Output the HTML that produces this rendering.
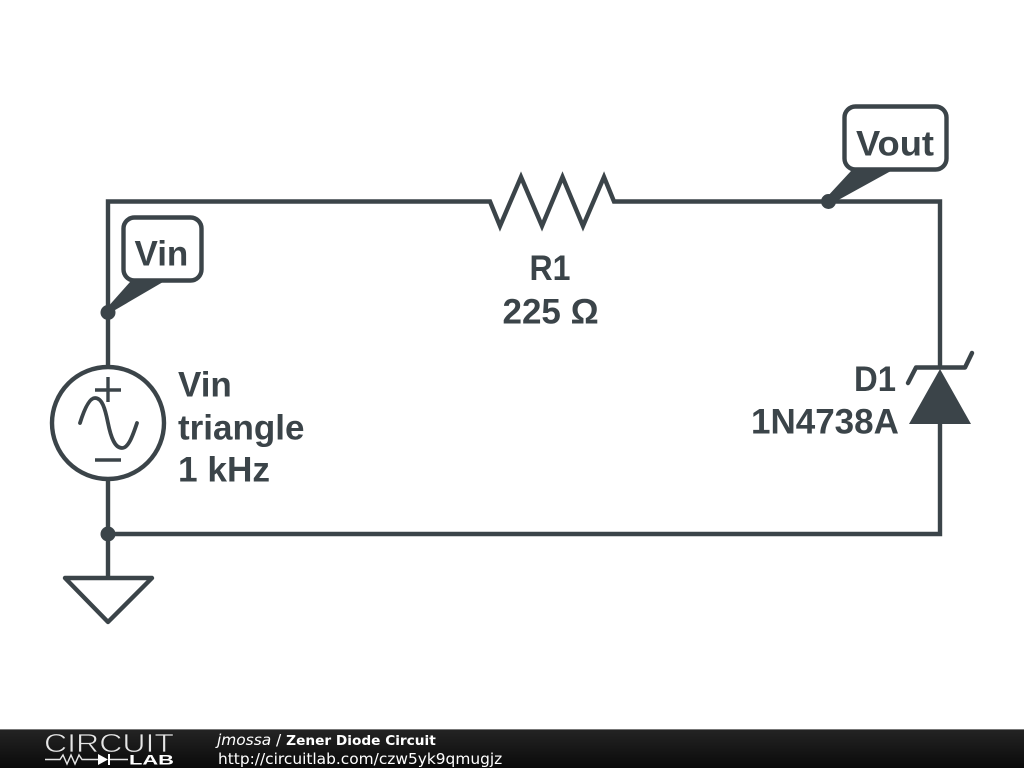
<!DOCTYPE html>
<html>
<head>
<meta charset="utf-8">
<style>
html,body{margin:0;padding:0;background:#fff;width:1024px;height:768px;overflow:hidden}
svg{display:block}
.t{font-family:"Liberation Sans",sans-serif;font-weight:700;font-size:35px;fill:#3b4449}
.f{font-family:"DejaVu Sans",sans-serif;font-size:15.4px;fill:#fff}
</style>
</head>
<body>
<svg width="1024" height="768" viewBox="0 0 1024 768" xmlns="http://www.w3.org/2000/svg">
<defs>
<linearGradient id="g" x1="0" y1="0" x2="0" y2="1">
<stop offset="0" stop-color="#242424"/>
<stop offset="1" stop-color="#0a0a0a"/>
</linearGradient>
</defs>
<rect width="1024" height="768" fill="#fff"/>
<g fill="none" stroke="#3b4449" stroke-width="4.4" stroke-linejoin="miter">
<path d="M108 366V201.500H490L500 226 521 177 542 226 562.500 177 583 226 604 177 614 201.500H940V366"/>
<path d="M940 424V534H108V480"/>
<path d="M108 534V578"/>
<path stroke-linejoin="round" d="M65 578H152L108 622Z"/>
<circle cx="108" cy="423" r="56"/>
<path stroke-width="3.8" stroke-linecap="round" d="M80 423C85 407 90 398 95 398C102 398 105 408 108 423C111 438 115 448 122 448C128 448 132 438 137 423"/>
<path stroke-width="3.4" d="M95 390H121M108 377V402M95 460H121"/>
<path stroke-linecap="round" stroke-linejoin="round" d="M908 383L916 367.500H965L972 353"/>
<rect x="123.500" y="217.500" width="78" height="63" rx="11" fill="#fff"/>
<rect x="844.500" y="106.500" width="102" height="63" rx="11" fill="#fff"/>
</g>
<path d="M940 369L971 424H909Z" fill="#3b4449"/>
<path d="M130 282H163L110 313 106 309Z" fill="#3b4449"/>
<path d="M851 171H891L831 204 826 198Z" fill="#3b4449"/>
<circle cx="108" cy="312.500" r="7.500" fill="#3b4449"/>
<circle cx="108" cy="534" r="7.500" fill="#3b4449"/>
<circle cx="828.500" cy="201.500" r="7.500" fill="#3b4449"/>
<text class="t" x="134.500" y="265.500">Vin</text>
<text class="t" x="856" y="155.500" textLength="78" lengthAdjust="spacingAndGlyphs">Vout</text>
<text class="t" x="529.500" y="280" textLength="41" lengthAdjust="spacingAndGlyphs">R1</text>
<text class="t" x="502.500" y="323.500">225 Ω</text>
<text class="t" x="178" y="396.500">Vin</text>
<text class="t" x="178" y="439.500">triangle</text>
<text class="t" x="178" y="481.500" textLength="92" lengthAdjust="spacingAndGlyphs">1 kHz</text>
<text class="t" x="854" y="391" textLength="42" lengthAdjust="spacingAndGlyphs">D1</text>
<text class="t" x="751" y="433.500">1N4738A</text>
<rect x="0" y="729" width="1024" height="39" fill="url(#g)"/>
<rect x="0" y="729" width="1024" height="1" fill="#777"/>
<text x="44" y="752" textLength="130" lengthAdjust="spacingAndGlyphs" style="font-family:'Liberation Sans',sans-serif;font-size:26px;fill:#e6e6e6;font-weight:400;stroke:#1b1b1b;stroke-width:0.7px">CIRCUIT</text>
<path d="M45 759.500H60L63 755 67 764 71 755 75 764 79 755 82 759.500H98M110 759.500H128" fill="none" stroke="#e6e6e6" stroke-width="1.400"/>
<path d="M98 754L108 759.500 98 765Z" fill="#fff"/>
<path d="M109 754V765" stroke="#fff" stroke-width="2"/>
<text x="129" y="764.500" textLength="45" lengthAdjust="spacingAndGlyphs" style="font-family:'Liberation Sans',sans-serif;font-size:14px;font-weight:700;fill:#fff">LAB</text>
<text class="f" x="217" y="745"><tspan font-style="italic">jmossa</tspan> / <tspan font-weight="700" font-size="13.7">Zener Diode Circuit</tspan></text>
<text class="f" x="218" y="764">http://circuitlab.com/czw5yk9qmugjz</text>
</svg>
</body>
</html>
